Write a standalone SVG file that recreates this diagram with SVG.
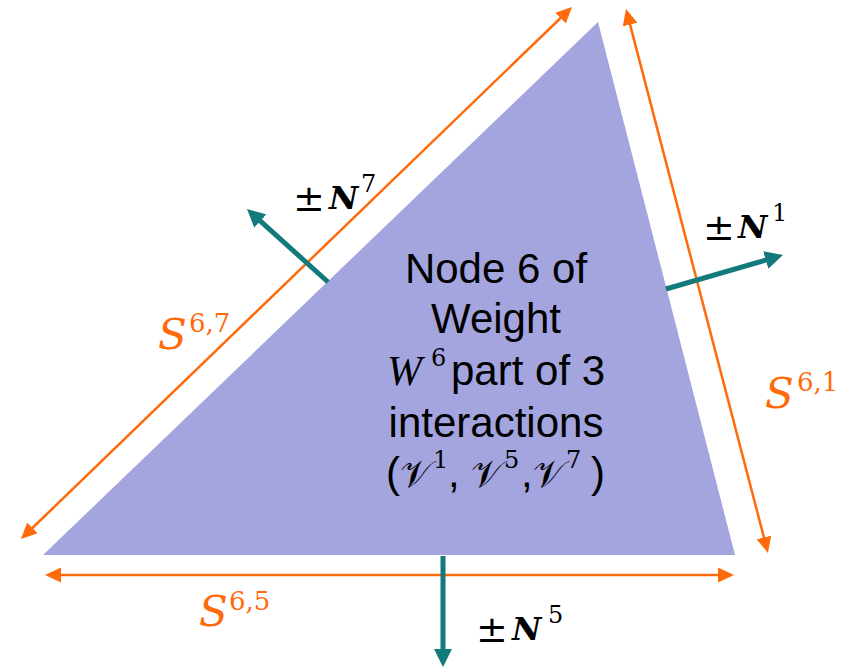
<svg xmlns="http://www.w3.org/2000/svg" width="856" height="670" viewBox="0 0 856 670">
<style>
.or{stroke:#ff6a0a;stroke-width:2.5;fill:none;marker-start:url(#oh);marker-end:url(#oh)}
.tl{stroke:#127a7a;stroke-width:5;fill:none;marker-end:url(#th)}
.main{font-family:"Liberation Sans",Arial,sans-serif;font-size:42px;fill:#000}
.mi{font-family:"Liberation Serif","DejaVu Serif",serif;font-style:italic}
.mu{font-family:"DejaVu Serif","Liberation Serif",serif}
.sc{font-family:"DejaVu Serif","DejaVu Sans","Liberation Serif",serif}
.lbl{font-family:"DejaVu Serif","Liberation Serif",serif;fill:#000}
.slbl{font-family:"DejaVu Serif","Liberation Serif",serif;fill:#ff6a0a}
</style>
<defs>
<marker id="oh" markerUnits="userSpaceOnUse" markerWidth="16" markerHeight="15" refX="3" refY="7.5" orient="auto-start-reverse" viewBox="0 0 16 15">
<path d="M0,0 L16,7.5 L0,15 z" fill="#ff6a0a"/>
</marker>
<marker id="th" markerUnits="userSpaceOnUse" markerWidth="18" markerHeight="18" refX="4" refY="9" orient="auto" viewBox="0 0 18 18">
<path d="M0,0 L18,9 L0,18 z" fill="#127a7a"/>
</marker>
</defs>
<g id="node6">
<polygon points="598,22 43,555 735,555" fill="#a4a4df"/>
<text class="main" x="496" y="283" text-anchor="middle">Node 6 of</text>
<text class="main" x="496" y="333" text-anchor="middle">Weight</text>
<text class="main"><tspan class="mi" x="387" y="385">W</tspan><tspan class="mu" x="431" y="366" font-size="24">6</tspan><tspan x="451" y="385">part of 3</tspan></text>
<text class="main" x="496" y="437" text-anchor="middle">interactions</text>
<text class="main"><tspan x="386" y="487">(</tspan><tspan class="sc" x="400" y="487" font-size="38">𝒱</tspan><tspan class="mu" x="433" y="468" font-size="24">1</tspan><tspan x="448" y="487">,</tspan><tspan class="sc" x="471" y="487" font-size="38">𝒱</tspan><tspan class="mu" x="504" y="468" font-size="24">5</tspan><tspan x="521" y="487">,</tspan><tspan class="sc" x="533" y="487" font-size="38">𝒱</tspan><tspan class="mu" x="566" y="468" font-size="24">7</tspan><tspan x="591" y="487">)</tspan></text>
</g>
<g id="connectors">
<line class="or" x1="30.3" y1="530" x2="562.7" y2="16"/>
<line class="or" x1="629.3" y1="21.6" x2="764.7" y2="540.4"/>
<line class="or" x1="58" y1="575" x2="721" y2="575"/>
<line class="tl" x1="328" y1="282" x2="257.4" y2="218.4"/>
<line class="tl" x1="666" y1="289" x2="769.6" y2="258.9"/>
<line class="tl" x1="443" y1="556" x2="443" y2="653"/>
</g>
<g id="labels">
<text class="lbl" font-size="32"><tspan x="293" y="211" font-size="38">±</tspan><tspan x="329" y="209" font-weight="bold" font-style="italic">N</tspan><tspan x="361" y="192" font-size="24">7</tspan></text>
<text class="lbl" font-size="32"><tspan x="703" y="240" font-size="38">±</tspan><tspan x="738" y="238" font-weight="bold" font-style="italic">N</tspan><tspan x="772" y="221" font-size="24">1</tspan></text>
<text class="lbl" font-size="32"><tspan x="476" y="642" font-size="38">±</tspan><tspan x="512" y="640" font-weight="bold" font-style="italic">N</tspan><tspan x="548" y="623" font-size="24">5</tspan></text>
<text class="slbl" font-size="42"><tspan x="158" y="349" font-style="italic">S</tspan><tspan x="189" y="332" font-size="26">6,7</tspan></text>
<text class="slbl" font-size="42"><tspan x="765" y="408" font-style="italic">S</tspan><tspan x="797" y="391" font-size="26">6,1</tspan></text>
<text class="slbl" font-size="42"><tspan x="199" y="626" font-style="italic">S</tspan><tspan x="229" y="610" font-size="26">6,5</tspan></text>
</g>
</svg>
